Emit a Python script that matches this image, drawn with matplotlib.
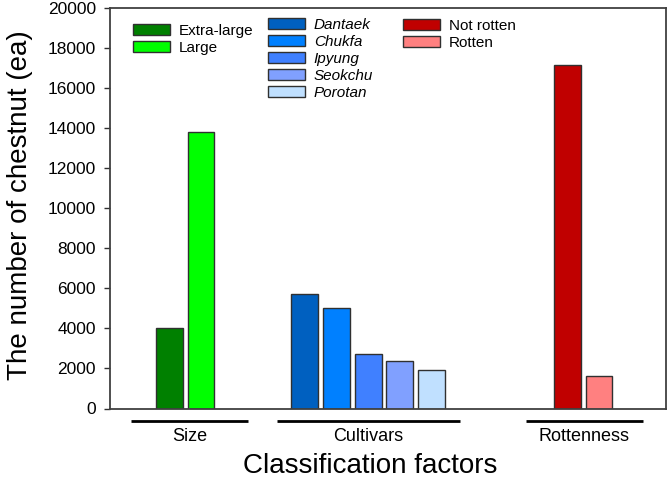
import matplotlib
matplotlib.use("Agg")
import matplotlib.pyplot as plt
from matplotlib.transforms import blended_transform_factory

plt.rcParams['font.family'] = ['Liberation Sans', 'DejaVu Sans']

# ---- data ----
size_labels = ["Extra-large", "Large"]
size_values = [4000, 13800]
cultivar_labels = ["Dantaek", "Chukfa", "Ipyung", "Seokchu", "Porotan"]
cultivar_values = [5700, 5000, 2700, 2350, 1900]
rot_labels = ["Not rotten", "Rotten"]
rot_values = [17150, 1600]
group_names = ["Size", "Cultivars", "Rottenness"]
yticks = [0, 2000, 4000, 6000, 8000, 10000, 12000, 14000, 16000, 18000, 20000]

# ---- styles ----
size_colors = ["#008000", "#00FF00"]
cultivar_colors = ["#0060C0", "#0080FF", "#4080FF", "#80A0FF", "#C0E0FF"]
rot_colors = ["#C00000", "#FF8080"]
edge = "#303030"

fig = plt.figure(figsize=(6.69, 4.80), dpi=100)
ax = fig.add_axes([110/669, 1 - 408.5/480, 556/669, 400.5/480])

size_x = [1.88 + i for i in range(len(size_values))]
cult_x = [6.17 + i for i in range(len(cultivar_values))]
rot_x = [14.48 + i for i in range(len(rot_values))]
w = 0.85

h_size = ax.bar(size_x, size_values, width=w, color=size_colors, edgecolor=edge, linewidth=1)
h_cult = ax.bar(cult_x, cultivar_values, width=w, color=cultivar_colors, edgecolor=edge, linewidth=1)
h_rot = ax.bar(rot_x, rot_values, width=w, color=rot_colors, edgecolor=edge, linewidth=1)

ax.set_xlim(0, 17.6)
ax.set_ylim(0, 20000)
ax.set_yticks(yticks)
ax.set_yticklabels([str(t) for t in yticks], fontsize=12.5)
ax.set_xticks([])
ax.tick_params(axis='y', direction='out', length=4, width=1, pad=6, color='#303030')
for s in ax.spines.values():
    s.set_color('#404040')
    s.set_linewidth(1.3)

# group underline and labels
trans = blended_transform_factory(ax.transData, ax.transAxes)
line_spans = [(0.66, 4.37), (5.28, 11.08), (13.16, 16.87)]
for name, (a, b) in zip(group_names, line_spans):
    ax.plot([a, b], [-0.03, -0.03], color='black', lw=2, transform=trans, clip_on=False,
            solid_capstyle='butt')
    ax.text((a + b) / 2, -0.069, name, transform=trans, ha='center', va='center', fontsize=13)

fig.text(20/669, 1 - 205/480, "The number of chestnut (ea)", rotation=90,
         ha='center', va='center', fontsize=20)
fig.text(370/669, 1 - 466/480, "Classification factors", ha='center', va='center', fontsize=20)

# legends
def add_leg(handles, labels, x, y, italic=False):
    prop = {'size': 11}
    if italic:
        prop['style'] = 'italic'
    leg = fig.legend(handles, labels, loc='upper left', bbox_to_anchor=(x/669, 1 - y/480),
                     frameon=False, borderpad=0, borderaxespad=0, handlelength=2.4,
                     handleheight=0.75, handletextpad=0.6, labelspacing=0.2, prop=prop)
    return leg

add_leg(list(h_size), size_labels, 133, 24)
add_leg(list(h_cult), cultivar_labels, 268, 18, italic=True)
add_leg(list(h_rot), rot_labels, 403, 19)

fig.savefig("out.png", dpi=100)
